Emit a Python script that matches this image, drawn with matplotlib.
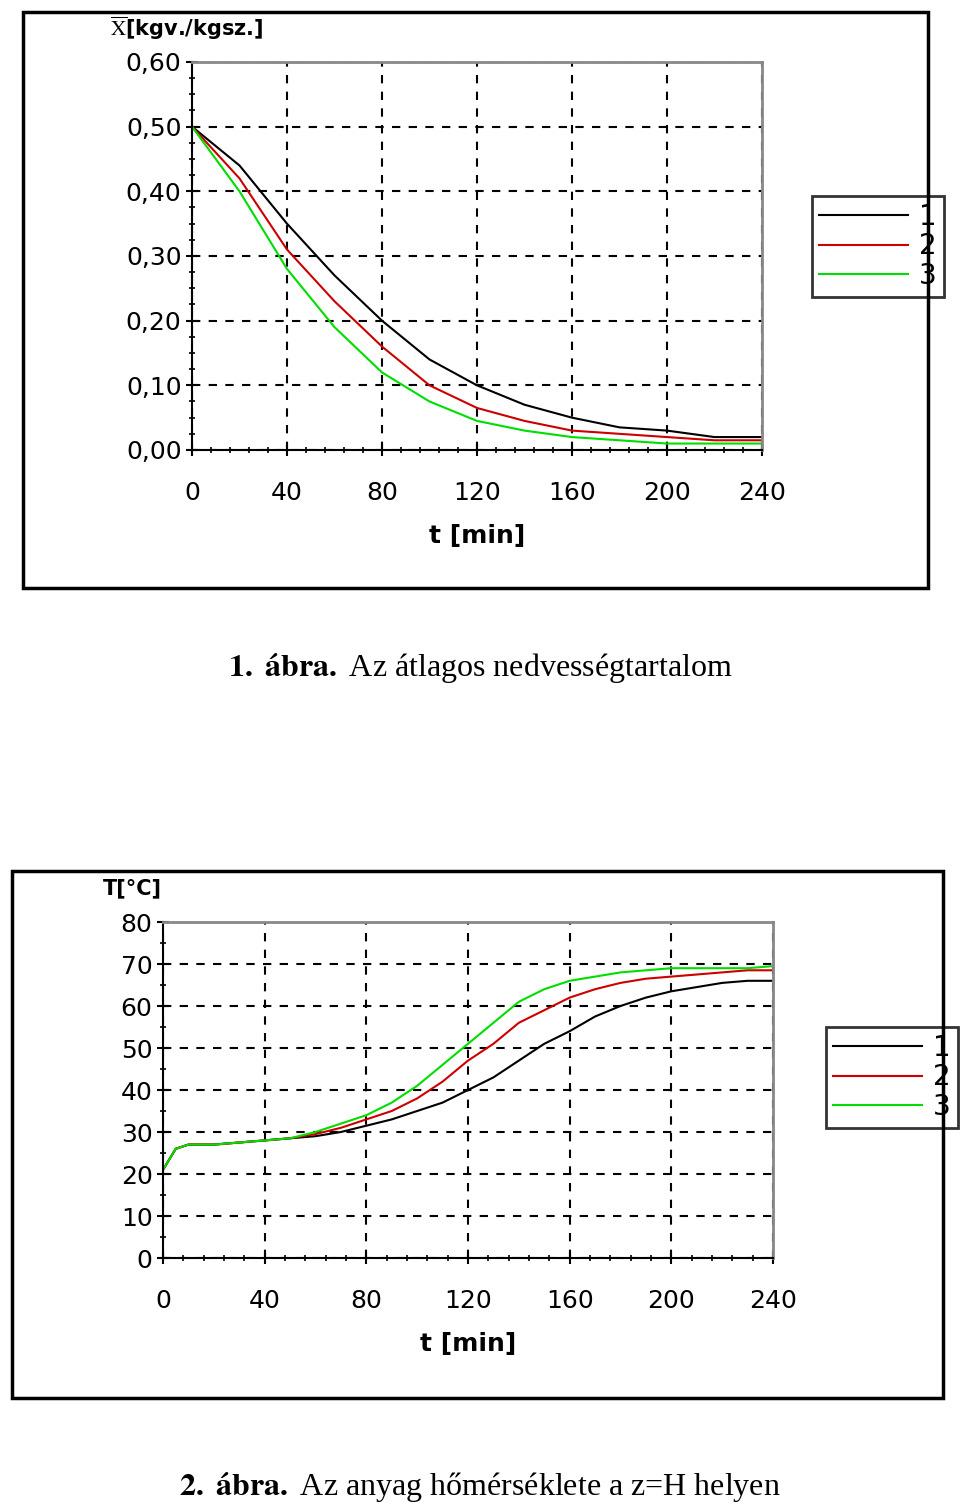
import matplotlib
matplotlib.use("Agg")
import matplotlib.pyplot as plt
from matplotlib.patches import Rectangle
from matplotlib.ticker import MultipleLocator

plt.rcParams["mathtext.fontset"] = "stix"

t1 = [0, 20, 40, 60, 80, 100, 120, 140, 160, 180, 200, 220, 240]
x_black = [0.50, 0.44, 0.35, 0.27, 0.20, 0.14, 0.10, 0.07, 0.05, 0.035, 0.03, 0.02, 0.02]
x_red = [0.50, 0.42, 0.31, 0.23, 0.16, 0.10, 0.065, 0.045, 0.03, 0.025, 0.02, 0.015, 0.015]
x_green = [0.50, 0.40, 0.28, 0.19, 0.12, 0.075, 0.045, 0.03, 0.02, 0.015, 0.01, 0.01, 0.01]
y1_ticks = [0.0, 0.1, 0.2, 0.3, 0.4, 0.5, 0.6]
y1_labels = ["0,00", "0,10", "0,20", "0,30", "0,40", "0,50", "0,60"]

t2 = [0, 5, 10, 20, 30, 40, 50, 60, 70, 80, 90, 100, 110, 120, 130, 140, 150, 160, 170, 180, 190, 200, 210, 220, 230, 240]
T_black = [21, 26, 27, 27, 27.5, 28, 28.5, 29, 30, 31.5, 33, 35, 37, 40, 43, 47, 51, 54, 57.5, 60, 62, 63.5, 64.5, 65.5, 66, 66]
T_red = [21, 26, 27, 27, 27.5, 28, 28.5, 29.5, 31, 33, 35, 38, 42, 47, 51, 56, 59, 62, 64, 65.5, 66.5, 67, 67.5, 68, 68.5, 68.5]
T_green = [21, 26, 27, 27, 27.5, 28, 28.5, 30, 32, 34, 37, 41, 46, 51, 56, 61, 64, 66, 67, 68, 68.5, 69, 69, 69, 69, 69.5]
y2_ticks = [0, 10, 20, 30, 40, 50, 60, 70, 80]
x_ticks = [0, 40, 80, 120, 160, 200, 240]
series_names = ["1", "2", "3"]
colors = ["black", "#cc0000", "#00dd00"]

W, H = 960, 1511
fig = plt.figure(figsize=(9.6, 15.11), dpi=100)

def fy(y):
    return 1 - y / H

def frame(x0, y0, x1, y1):
    fig.patches.append(Rectangle((x0 / W, fy(y1)), (x1 - x0) / W, (y1 - y0) / H,
                                 transform=fig.transFigure, fill=False, lw=2.5, ec="black"))

def setup(ax, ylim, yticks, ylabels, yminor):
    ax.set_xlim(0, 240)
    ax.set_ylim(*ylim)
    ax.set_xticks(x_ticks)
    ax.set_xticklabels([str(v) for v in x_ticks], fontsize=18)
    ax.xaxis.set_minor_locator(MultipleLocator(8))
    ax.set_yticks(yticks)
    ax.set_yticklabels(ylabels, fontsize=18)
    ax.yaxis.set_minor_locator(MultipleLocator(yminor))
    ax.tick_params(which="major", length=8, width=1.5, direction="inout")
    ax.tick_params(axis="x", which="major", pad=18)
    ax.tick_params(which="minor", length=5, width=1.2, direction="inout")
    ax.grid(True, which="major", ls=(0, (4, 4)), color="black", lw=1.5)
    for s in ["top", "right"]:
        ax.spines[s].set_color("#888888")
        ax.spines[s].set_linewidth(2)
    for s in ["left", "bottom"]:
        ax.spines[s].set_linewidth(1.5)
    ax.set_xlabel("t [min]", fontsize=18, fontweight="bold", labelpad=14)

def legend(ax, x0, y0, axleft, axbottom, axw, axh):
    leg = ax.legend(handles=ax.lines, labels=series_names, loc="upper left",
                    bbox_to_anchor=((x0 - axleft) / axw, (axbottom - y0) / axh), frameon=True,
                    fancybox=False, edgecolor="black", fontsize=20, handlelength=3.2,
                    handletextpad=0.4, borderpad=0.25, labelspacing=0.05, borderaxespad=0)
    leg.get_frame().set_linewidth(2)

# chart 1
frame(23, 12, 928, 588)
ax1 = fig.add_axes([192 / W, fy(450), 570 / W, 388 / H])
for ys, c in zip([x_black, x_red, x_green], colors):
    ax1.plot(t1, ys, color=c, lw=1.5)
setup(ax1, (0, 0.6), y1_ticks, y1_labels, 0.025)
fig.text(110 / W, fy(28), r"$\overline{\mathrm{X}}$[kgv./kgsz.]", fontsize=15, fontweight="bold", va="center")
legend(ax1, 812, 196, 192, 450, 570, 388)
fig.text(480 / W, fy(668), r"$\mathbf{1.\ ábra.}$ Az átlagos nedvességtartalom", fontsize=23,
         family="Liberation Serif", ha="center", va="center")

# chart 2
frame(12, 871, 943, 1398)
ax2 = fig.add_axes([163 / W, fy(1258), 610 / W, 336 / H])
for ys, c in zip([T_black, T_red, T_green], colors):
    ax2.plot(t2, ys, color=c, lw=1.5)
setup(ax2, (0, 80), y2_ticks, [str(v) for v in y2_ticks], 5)
fig.text(103 / W, fy(888), "T[°C]", fontsize=15, fontweight="bold", va="center")
legend(ax2, 826, 1027, 163, 1258, 610, 336)
fig.text(480 / W, fy(1487), r"$\mathbf{2.\ ábra.}$ Az anyag hőmérséklete a z=H helyen", fontsize=23,
         family="Liberation Serif", ha="center", va="center")

fig.savefig("out.png", dpi=100)
